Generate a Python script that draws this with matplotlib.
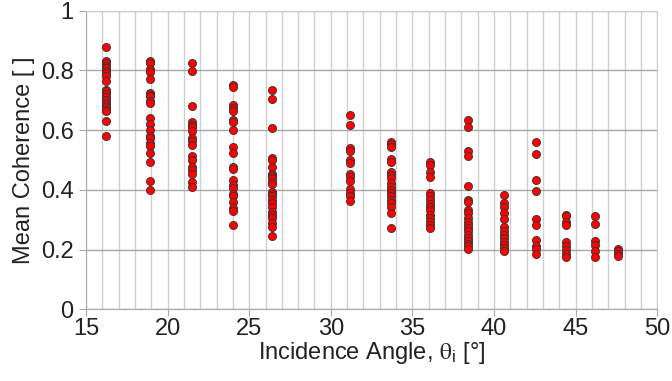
import numpy as np
import matplotlib.pyplot as plt
from matplotlib.ticker import MultipleLocator

plt.rcParams['font.family'] = ['Liberation Sans', 'DejaVu Sans']
plt.rcParams['mathtext.fontset'] = 'stix'

angles = [16.2, 18.9, 21.5, 24.0, 26.4, 31.2, 33.7, 36.1, 38.4, 40.6, 42.6, 44.4, 46.2, 47.6]

coh_16 = [0.880, 0.830, 0.825, 0.816, 0.808, 0.797, 0.791, 0.782, 0.766, 0.735, 0.730,
          0.722, 0.712, 0.701, 0.692, 0.685, 0.677, 0.668, 0.663, 0.629, 0.581]
coh_19 = [0.830, 0.825, 0.804, 0.793, 0.771, 0.726, 0.718, 0.713, 0.699, 0.690, 0.640,
          0.621, 0.601, 0.581, 0.573, 0.556, 0.547, 0.523, 0.492, 0.430, 0.400]
coh_21 = [0.825, 0.797, 0.682, 0.626, 0.618, 0.609, 0.596, 0.573, 0.564, 0.551, 0.512,
          0.501, 0.478, 0.467, 0.454, 0.428, 0.411]
coh_24 = [0.752, 0.746, 0.685, 0.674, 0.663, 0.635, 0.626, 0.599, 0.545, 0.525, 0.478,
          0.469, 0.434, 0.417, 0.406, 0.387, 0.378, 0.361, 0.339, 0.331, 0.283]
coh_26 = [0.735, 0.704, 0.607, 0.508, 0.501, 0.476, 0.454, 0.447, 0.439, 0.428, 0.420,
          0.394, 0.387, 0.378, 0.366, 0.355, 0.344, 0.327, 0.316, 0.305, 0.288, 0.277, 0.244]
coh_31 = [0.652, 0.617, 0.539, 0.531, 0.500, 0.489, 0.453, 0.442, 0.431, 0.402, 0.391,
          0.378, 0.364]
coh_34 = [0.561, 0.553, 0.544, 0.502, 0.494, 0.461, 0.450, 0.439, 0.424, 0.411, 0.400,
          0.389, 0.378, 0.367, 0.356, 0.344, 0.322, 0.272]
coh_36 = [0.494, 0.483, 0.461, 0.442, 0.389, 0.380, 0.367, 0.353, 0.344, 0.333, 0.317,
          0.306, 0.294, 0.283, 0.272]
coh_38 = [0.633, 0.609, 0.531, 0.513, 0.413, 0.367, 0.361, 0.333, 0.322, 0.306, 0.294,
          0.283, 0.272, 0.261, 0.250, 0.239, 0.228, 0.220, 0.211, 0.203]
coh_41 = [0.383, 0.356, 0.344, 0.322, 0.302, 0.276, 0.261, 0.250, 0.239, 0.224, 0.217,
          0.206, 0.194]
coh_43 = [0.561, 0.519, 0.432, 0.397, 0.303, 0.281, 0.231, 0.211, 0.203, 0.186]
coh_44 = [0.317, 0.311, 0.294, 0.281, 0.224, 0.211, 0.200, 0.187, 0.176]
coh_46 = [0.311, 0.286, 0.230, 0.214, 0.194, 0.176]
coh_48 = [0.203, 0.194, 0.187, 0.178]

groups = [coh_16, coh_19, coh_21, coh_24, coh_26, coh_31, coh_34, coh_36,
          coh_38, coh_41, coh_43, coh_44, coh_46, coh_48]

fig = plt.figure(figsize=(6.72, 3.81), dpi=100)
ax = fig.add_axes([0.128, 0.188, 0.850, 0.784])

for a, vals in zip(angles, groups):
    ax.scatter(np.full(len(vals), a), vals, s=34, c='#ff0000', edgecolors='#333333',
               linewidths=0.6, zorder=3, clip_on=False)

ax.set_xlim(15, 50)
ax.set_ylim(0, 1)
ax.xaxis.set_major_locator(MultipleLocator(5))
ax.xaxis.set_minor_locator(MultipleLocator(1))
ax.set_yticks([0, 0.2, 0.4, 0.6, 0.8, 1.0], ['0', '0.2', '0.4', '0.6', '0.8', '1'])

ax.grid(which='both', axis='x', color='#d0d0d0', lw=1)
ax.grid(which='major', axis='y', color='#a8a8a8', lw=1)
ax.set_axisbelow(True)
for sp in ax.spines.values():
    sp.set_color('#a8a8a8')
ax.spines['top'].set_color('#d0d0d0')
ax.spines['right'].set_color('#d0d0d0')

ax.tick_params(which='major', direction='out', length=5, color='#a8a8a8', labelsize=17,
               labelcolor='#222222')
ax.tick_params(axis='x', which='major', pad=1)
ax.tick_params(axis='y', which='major', pad=4)
ax.tick_params(which='minor', length=0)

ax.set_xlabel(r'Incidence Angle, $\mathrm{\theta}_\mathregular{i}$ [°]', fontsize=17,
              color='#222222', labelpad=0)
ax.set_ylabel('Mean Coherence [ ]', fontsize=17, color='#222222', labelpad=4)

fig.savefig('out.png', dpi=100)
